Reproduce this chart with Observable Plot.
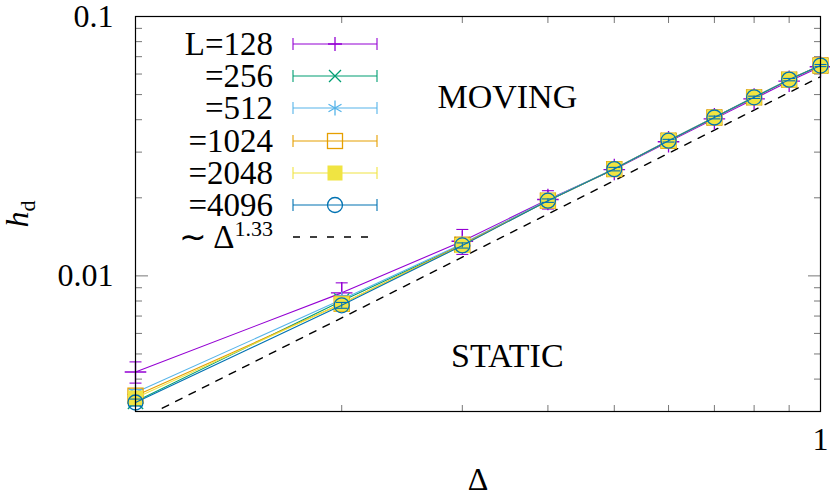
<!DOCTYPE html>
<html><head><meta charset="utf-8">
<script src="https://cdn.jsdelivr.net/npm/d3@7"></script>
<script src="https://cdn.jsdelivr.net/npm/@observablehq/plot@0.6"></script>
<style>
html,body{margin:0;padding:0;background:#fff;}
#wrap{position:relative;width:830px;height:503px;font-family:"Liberation Serif","Times New Roman",serif;color:#000;}
.row{position:absolute;left:0;height:32px;display:flex;align-items:center;}
.lab{width:273px;text-align:right;font-size:33px;line-height:30px;white-space:nowrap;}
.sw{margin-left:19px;overflow:visible;}
</style></head>
<body><div id="wrap"></div>
<script>
// ---- data ----
const deltas = [0.1, 0.2, 0.3, 0.4, 0.5, 0.6, 0.7, 0.8, 0.9, 1.0];
const h128  = [0.00426, 0.0086, 0.0136, 0.0197, 0.0257, 0.0329, 0.0403, 0.0481, 0.0563, 0.0640];
const e128  = [0.0004, 0.0008, 0.0015, 0.0016, 0.0013, 0.0013, 0.0012, 0.0014, 0.0015, 0.0015];
const h256  = [0.00328, 0.0080, 0.0132, 0.0195, 0.0258, 0.0332, 0.0408, 0.0488, 0.0571, 0.0647];
const e256  = [0.00012, 0.0004, 0.0005, 0.0006, 0.0006, 0.0007, 0.0008, 0.0009, 0.0010, 0.0010];
const h512  = [0.00355, 0.0081, 0.0133, 0.0196, 0.0259, 0.0333, 0.0409, 0.0489, 0.0572, 0.0648];
const e512  = [0.00010, 0.0003, 0.0004, 0.0005, 0.0005, 0.0006, 0.0007, 0.0008, 0.0009, 0.0009];
const h1024 = [0.00345, 0.0078, 0.0132, 0.0195, 0.0258, 0.0332, 0.0408, 0.0488, 0.0571, 0.0647];
const e1024 = [0.00012, 0.0003, 0.0004, 0.0005, 0.0005, 0.0006, 0.0007, 0.0007, 0.0008, 0.0008];
const h2048 = [0.00338, 0.0078, 0.0131, 0.0195, 0.0258, 0.0332, 0.0408, 0.0488, 0.0571, 0.0647];
const e2048 = [0.0001, 0.0002, 0.0003, 0.0004, 0.0004, 0.0005, 0.0005, 0.0006, 0.0006, 0.0007];
const h4096 = [0.00325, 0.0077, 0.0131, 0.0195, 0.0258, 0.0332, 0.0408, 0.0488, 0.0571, 0.0647];
const e4096 = [0.0001, 0.0002, 0.0003, 0.0003, 0.0004, 0.0004, 0.0005, 0.0005, 0.0006, 0.0006];
const seriesLabels = ["L=128", "=256", "=512", "=1024", "=2048", "=4096"];
const guideDelta = [0.1, 1];
const guideH = [0.00274, 0.0586];
const guideLabel = "∼ Δ<sup>1.33</sup>";
const annotText = ["MOVING", "STATIC"];
const annotDelta = [0.349, 0.349];
const annotH = [0.0491, 0.00491];
const xMinorTicks = [0.2, 0.3, 0.4, 0.5, 0.6, 0.7, 0.8, 0.9];
const xLabelTicks = [1];
const yMajorTicks = [0.01, 0.1];
const yMinorTicks = [0.003, 0.004, 0.005, 0.006, 0.007, 0.008, 0.009, 0.02, 0.03, 0.04, 0.05, 0.06, 0.07, 0.08, 0.09];

// ---- styles ----
const colors = ["#9400d3", "#009e73", "#56b4e9", "#e69f00", "#f0e442", "#0072b2"];
const symbols = ["plus", "times", "asterisk", "square", "square", "circle"];
const filled = [false, false, false, false, true, false];
const symR = [7, 7, 7.5, 8.5, 8.5, 7.5];

const hs = [h128, h256, h512, h1024, h2048, h4096];
const es = [e128, e256, e512, e1024, e2048, e4096];
const series = hs.map((h, i) => deltas.map((d, j) => ({delta: d, h: h[j], err: es[i][j]})));
const guide = guideDelta.map((d, i) => ({delta: d, h: guideH[i]}));
const annots = annotText.map((t, i) => ({text: t, delta: annotDelta[i], h: annotH[i]}));

const capSymbol = {draw(ctx, size) { const r = Math.sqrt(size / Math.PI); ctx.moveTo(-r, 0); ctx.lineTo(r, 0); }};

const seriesMarks = series.flatMap((rows, i) => {
  const c = colors[i];
  return [
    Plot.line(rows, {x: "delta", y: "h", stroke: c, strokeWidth: 1.1}),
    Plot.ruleX(rows, {x: "delta", y1: d => d.h - d.err, y2: d => d.h + d.err, stroke: c, strokeWidth: 1.1}),
    Plot.dot(rows, {x: "delta", y: d => d.h + d.err, symbol: capSymbol, r: 6, stroke: c, fill: "none", strokeWidth: 1.1}),
    Plot.dot(rows, {x: "delta", y: d => d.h - d.err, symbol: capSymbol, r: 6, stroke: c, fill: "none", strokeWidth: 1.1}),
    Plot.dot(rows, {x: "delta", y: "h", symbol: symbols[i], r: symR[i],
      stroke: filled[i] ? "none" : c, fill: filled[i] ? c : "none", strokeWidth: 1.3})
  ];
});

const tickStroke = "#777";
const plot = Plot.plot({
  width: 830, height: 503,
  marginLeft: 135, marginRight: 10, marginTop: 16, marginBottom: 92,
  style: {fontFamily: "'Liberation Serif', 'Times New Roman', serif", fontSize: "32px", background: "white", color: "black"},
  x: {type: "log", domain: [0.1, 1]},
  y: {type: "log", domain: [0.003, 0.1]},
  marks: [
    // inward ticks on all sides
    Plot.axisX(xMinorTicks, {anchor: "bottom", tickSize: -6, tickFormat: () => "", label: null, stroke: tickStroke}),
    Plot.axisX(xMinorTicks, {anchor: "top", tickSize: -6, tickFormat: () => "", label: null, stroke: tickStroke}),
    Plot.axisY(yMajorTicks, {anchor: "left", tickSize: -13, tickFormat: () => "", label: null, stroke: tickStroke}),
    Plot.axisY(yMinorTicks, {anchor: "left", tickSize: -7, tickFormat: () => "", label: null, stroke: tickStroke}),
    Plot.axisY(yMajorTicks, {anchor: "right", tickSize: -13, tickFormat: () => "", label: null, stroke: tickStroke}),
    Plot.axisY(yMinorTicks, {anchor: "right", tickSize: -7, tickFormat: () => "", label: null, stroke: tickStroke}),
    // labels
    Plot.axisY(yMajorTicks, {anchor: "left", tickSize: 0, tickPadding: 22, fontSize: 32,
      tickFormat: d => d >= 0.1 ? "0.1" : "0.01", label: "hd", labelAnchor: "center", labelArrow: "none", labelOffset: 130}),
    Plot.axisX(xLabelTicks, {anchor: "bottom", tickSize: 0, tickPadding: 16, fontSize: 32,
      tickFormat: d => String(d), label: "Δ", labelAnchor: "center", labelArrow: "none", labelOffset: 78}),
    Plot.line(guide, {x: "delta", y: "h", stroke: "black", strokeWidth: 1.4, strokeDasharray: "7,8", clip: true}),
    ...seriesMarks,
    Plot.text(annots, {x: "delta", y: "h", text: "text", fontSize: 34, fill: "black"}),
    Plot.frame({stroke: "black", strokeWidth: 1.2})
  ]
});

const wrap = document.getElementById("wrap");
wrap.appendChild(plot);

// subscript for y label
const yl = plot.querySelector('g[aria-label="y-axis label"] text');
if (yl) {
  yl.textContent = "";
  const t1 = document.createElementNS("http://www.w3.org/2000/svg", "tspan");
  t1.setAttribute("font-style", "italic"); t1.textContent = "h";
  const t2 = document.createElementNS("http://www.w3.org/2000/svg", "tspan");
  t2.setAttribute("font-size", "22"); t2.setAttribute("dy", "0.3em"); t2.textContent = "d";
  yl.appendChild(t1); yl.appendChild(t2);
}

// legend (inside the frame, top-left)
const rowCenter0 = 44, rowStep = 32.2;
const legendItems = seriesLabels.map((l, i) => ({html: l, i})).concat([{html: guideLabel, i: -1}]);
legendItems.forEach((it, k) => {
  const row = d3.select(wrap).append("div").attr("class", "row").style("top", (rowCenter0 + k * rowStep - 16) + "px");
  row.append("span").attr("class", "lab").html(it.html);
  const svg = row.append("svg").attr("class", "sw").attr("width", 86).attr("height", 32);
  if (it.i < 0) {
    svg.append("line").attr("x1", 1).attr("x2", 85).attr("y1", 16).attr("y2", 16)
      .attr("stroke", "black").attr("stroke-width", 1.4).attr("stroke-dasharray", "7,10");
    return;
  }
  const c = colors[it.i];
  const g = svg.append("g").attr("stroke", c).attr("stroke-width", 1.1).attr("fill", "none");
  g.append("path").attr("d", "M1,16H85M1,10V22M85,10V22");
  const m = svg.append("g").attr("transform", "translate(43,16)").attr("stroke-width", 1.3);
  const s = symbols[it.i];
  if (s === "plus") m.append("path").attr("d", "M-7,0H7M0,-7V7").attr("stroke", c);
  else if (s === "times") m.append("path").attr("d", "M-6,-6L6,6M-6,6L6,-6").attr("stroke", c);
  else if (s === "asterisk") m.append("path").attr("d", "M0,-7.5V7.5M-6.5,-3.75L6.5,3.75M-6.5,3.75L6.5,-3.75").attr("stroke", c);
  else if (s === "square") m.append("rect").attr("x", -7.5).attr("y", -7.5).attr("width", 15).attr("height", 15)
      .attr("fill", filled[it.i] ? c : "none").attr("stroke", filled[it.i] ? "none" : c);
  else if (s === "circle") m.append("circle").attr("r", 7.5).attr("fill", "none").attr("stroke", c);
});
d3.selectAll("sup").style("font-size", "22px").style("vertical-align", "12px").style("line-height", "0");
</script>
</body></html>
